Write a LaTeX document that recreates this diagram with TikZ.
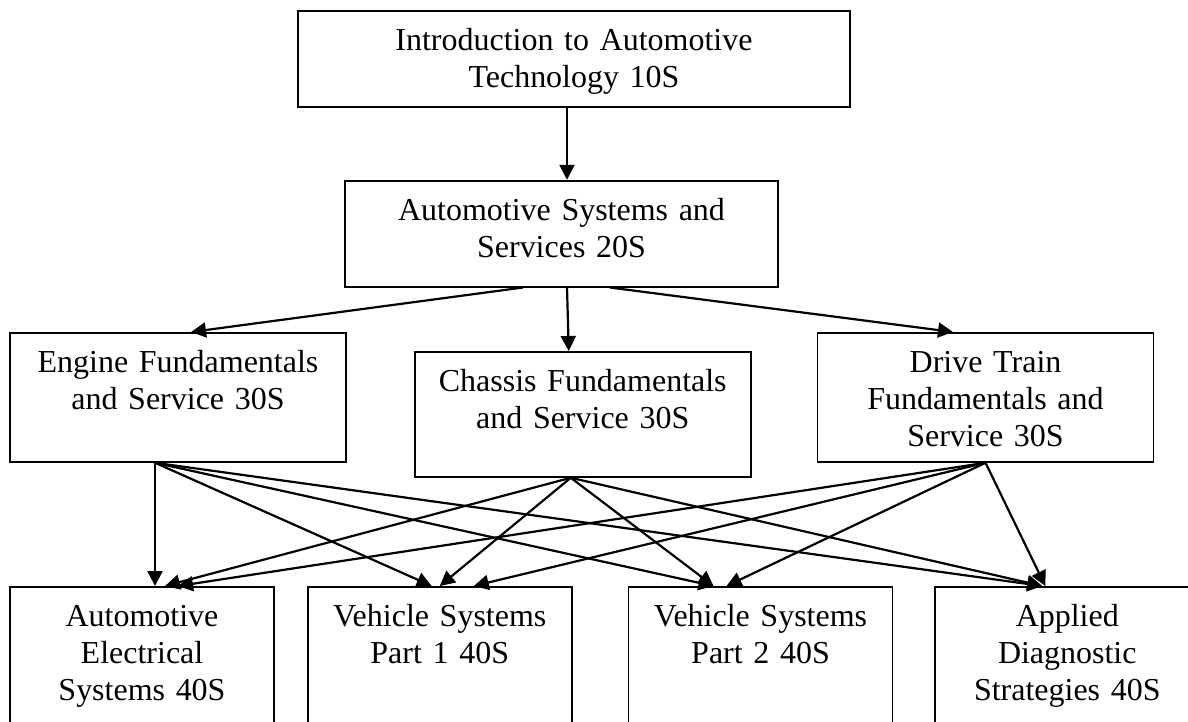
\documentclass[tikz,border=0pt]{standalone}
\usepackage{fontspec}
\setmainfont{Liberation Serif}
\usetikzlibrary{positioning,arrows.meta}

\begin{document}
\begin{tikzpicture}[
    course/.style={
        draw,
        line width=1pt,
        inner sep=0pt,
        align=center,
        anchor=north,
        text height=0.8cm,
        font=\fontsize{18.2}{21}\selectfont
    },
    wide/.style={text width=11.04cm, text depth=1.12cm},
    mid/.style={text width=8.66cm, text depth=1.32cm},
    third/.style={text width=6.72cm, text depth=1.78cm},
    fourth/.style={text width=5.28cm, text depth=2.7cm},
    arrow/.style={-{Triangle[length=0.3cm,width=0.3cm]}, line width=1.25pt}
]
\useasboundingbox (0,0) rectangle (23.76,-14.42);
\clip (0,0) rectangle (23.76,-14.42);

% 10S and 20S
\node[course, wide] (intro) at (11.48,-0.2) {Introduction to Automotive\\Technology 10S};
\node[course, mid, below=1.44cm of intro, xshift=-0.25cm] (systems) {Automotive Systems and\\Services 20S};

% 30S row
\node[course, third] (engine) at (3.56,-6.64) {Engine Fundamentals\\and Service 30S};
\node[course, third, text depth=1.7cm, right=1.34cm of engine.north east, anchor=north west, yshift=-0.38cm] (chassis) {Chassis Fundamentals\\and Service 30S};
\node[course, third, right=1.3cm of chassis.north east, anchor=north west, yshift=0.38cm] (drive) {Drive Train\\Fundamentals and\\Service 30S};

% 40S row
\node[course, fourth] (elec) at (2.84,-11.72) {Automotive\\Electrical\\Systems 40S};
\node[course, fourth, right=0.64cm of elec.north east, anchor=north west] (veh1) {Vehicle Systems\\Part 1 40S};
\node[course, fourth, right=1.1cm of veh1.north east, anchor=north west] (veh2) {Vehicle Systems\\Part 2 40S};
\node[course, fourth, right=0.82cm of veh2.north east, anchor=north west] (diag) {Applied\\Diagnostic\\Strategies 40S};

% top arrows
\draw[arrow] ([xshift=0.11cm]systems.north |- intro.south) -- ([xshift=0.11cm]systems.north);
\draw[arrow] ([xshift=-0.77cm]systems.south) -- ([xshift=0.26cm]engine.north);
\draw[arrow] ([xshift=0.11cm]systems.south) -- ([xshift=-0.28cm]chassis.north);
\draw[arrow] ([xshift=0.97cm]systems.south) -- ([xshift=-0.65cm]drive.north);

% every 30S course leads to every 40S course
\coordinate (engout) at ([xshift=-0.46cm]engine.south);
\coordinate (chaout) at ([xshift=-0.24cm]chassis.south);
\coordinate (driout) at (drive.south);
\foreach \src/\dst/\dx in {engout/elec/0.26, engout/veh1/-0.16, engout/veh2/-0.94, engout/diag/-0.5,
                           chaout/elec/0.46, chaout/veh1/0, chaout/veh2/-0.94, chaout/diag/-0.5,
                           driout/elec/0.72, driout/veh1/0.68, driout/veh2/-0.68, driout/diag/-0.44}
    \draw[arrow] (\src) -- ([xshift=\dx cm]\dst.north);

\end{tikzpicture}
\end{document}
